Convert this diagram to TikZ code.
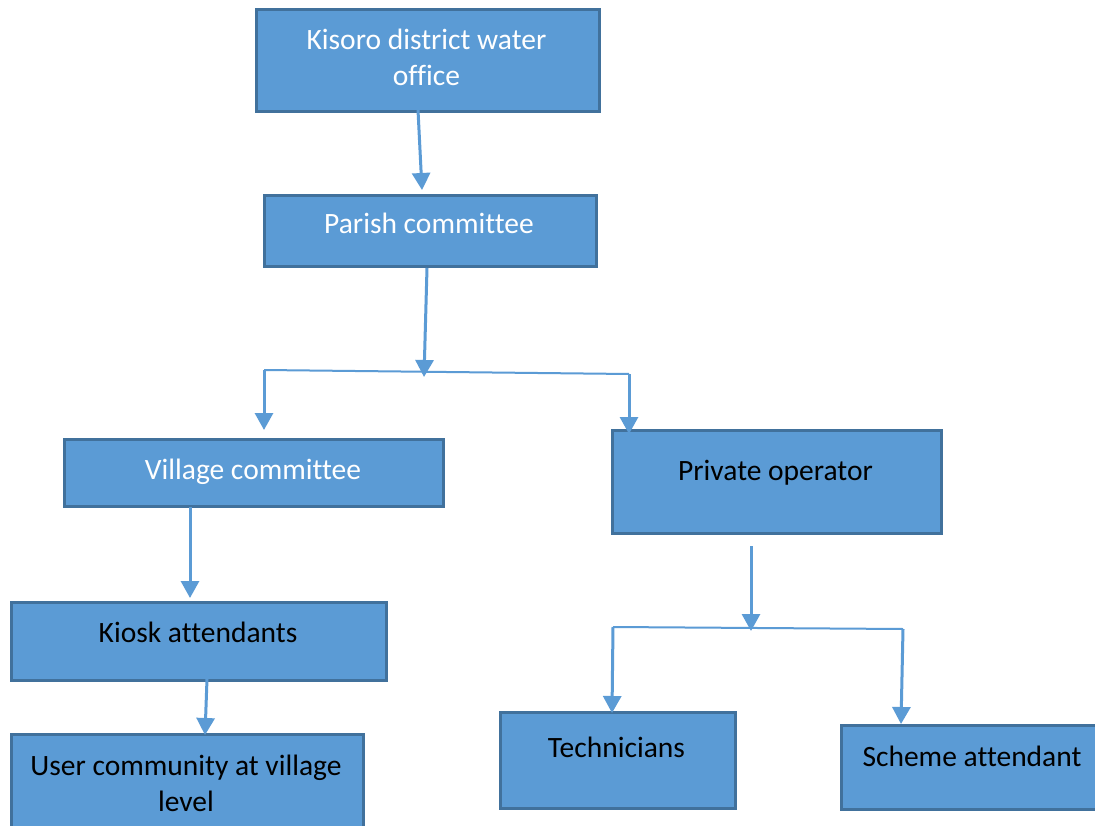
\documentclass[tikz,border=0pt]{standalone}
\usepackage{fontspec}
\setmainfont{Carlito}[Ligatures=NoCommon]
\usetikzlibrary{arrows.meta}
\definecolor{boxfill}{HTML}{5B9BD5}
\definecolor{boxline}{HTML}{41719C}
\definecolor{arrowc}{HTML}{5B9BD5}
\tikzset{
  box/.style={draw=boxline, fill=boxfill, line width=3pt, anchor=north west, inner sep=0pt},
  lbl/.style={font=\fontsize{29.5}{36}\selectfont, anchor=base, align=center, inner sep=0pt},
  arr/.style={draw=arrowc, line width=3pt, -{Triangle[width=18pt,length=17pt]}},
  bus/.style={draw=arrowc, line width=2pt}
}
\begin{document}
\begin{tikzpicture}[x=1pt,y=-1pt]
\clip (0,0) rectangle (1095,826);
\fill[white] (0,0) rectangle (1095,826);
% boxes
\node[box, minimum width=343pt, minimum height=102pt] (k) at (255,8) {};
\node[box, minimum width=332pt, minimum height=71pt] (p) at (263,194) {};
\node[box, minimum width=379pt, minimum height=67pt] (v) at (63,438) {};
\node[box, minimum width=329pt, minimum height=103pt] (o) at (611,429) {};
\node[box, minimum width=375pt, minimum height=78pt] (ka) at (10,601) {};
\node[box, minimum width=352pt, minimum height=110pt] (u) at (10,733) {};
\node[box, minimum width=235pt, minimum height=96pt] (t) at (499,711) {};
\node[box, minimum width=270pt, minimum height=84pt] (s) at (840,724) {};
% labels
\node[lbl, text=white] (kt) at (426.5,86) {Kisoro district water\\office};
\node[lbl, text=white] (pt) at (429,234) {Parish committee};
\node[lbl, text=white] (vt) at (253,479) {Village committee};
\node[lbl] (ot) at (775.5,480) {Private operator};
\node[lbl] (kat) at (198,642) {Kiosk attendants};
\node[lbl] (ut) at (186,811) {User community at village\\level};
\node[lbl] (tt) at (616.5,757) {Technicians};
\node[lbl] (st) at (972,766) {Scheme attendant};
% connector coordinates
\coordinate (k-out) at (418,110);
\coordinate (p-in) at (422,190);
\coordinate (p-out) at (427,268);
\coordinate (j1) at (424,377);
\coordinate (b1l) at (264,370);
\coordinate (b1r) at (629,374);
\coordinate (v-in) at (264,430);
\coordinate (o-in) at (629,434);
\coordinate (v-out) at (190,507);
\coordinate (ka-in) at (190,598);
\coordinate (ka-out) at (207,679);
\coordinate (u-in) at (205,735);
\coordinate (o-out) at (751,546);
\coordinate (j2) at (751,631);
\coordinate (b2l) at (613,627);
\coordinate (b2r) at (903,629);
\coordinate (t-in) at (612,713);
\coordinate (s-in) at (901,724);
% connectors
\draw[arr] (k-out) -- (p-in);
\draw[arr] (p-out) -- (j1);
\draw[bus] (b1l) -- (b1r);
\draw[arr] (b1l) -- (v-in);
\draw[arr] (b1r) -- (o-in);
\draw[arr] (v-out) -- (ka-in);
\draw[arr] (ka-out) -- (u-in);
\draw[arr] (o-out) -- (j2);
\draw[bus] (b2l) -- (b2r);
\draw[arr] (b2l) -- (t-in);
\draw[arr] (b2r) -- (s-in);
\end{tikzpicture}
\end{document}
